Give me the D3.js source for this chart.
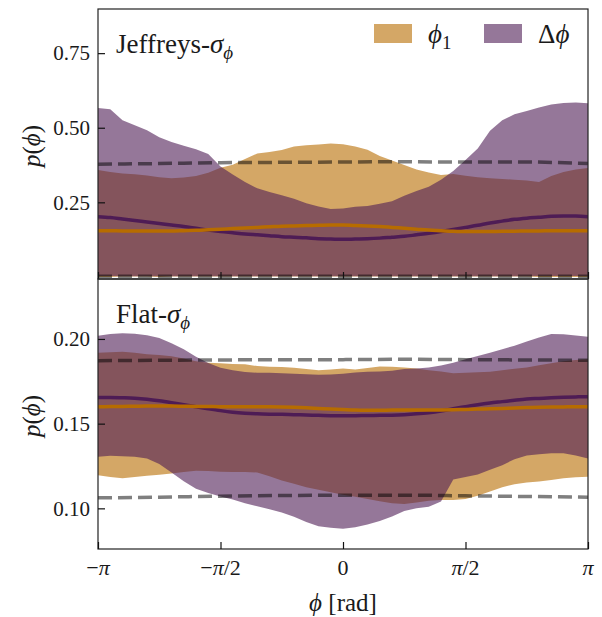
<!DOCTYPE html>
<html>
<head>
<meta charset="utf-8">
<script src="https://cdn.jsdelivr.net/npm/d3@7"></script>
<style>
body { margin: 0; background: #fff; }
text { font-family: "Liberation Serif", "DejaVu Serif", serif; fill: #1a1a1a; }
</style>
</head>
<body>
<div id="container"></div>
<script>
/* CONSTANTS AND GLOBALS */
const width = 602, height = 617,
  plotLeft = 98, plotRight = 588;

const orange = "#b76c00", purple = "#4e1c55";

/* DATA (grid of 41 points from -pi to pi) */
const phiGrid = d3.range(41).map(i => -Math.PI + i * Math.PI / 20);
const priorGrid = d3.range(9).map(i => -Math.PI + i * Math.PI / 4);

// Jeffreys panel
const jefPhi1Hi = [0.358,0.352,0.347,0.344,0.340,0.334,0.331,0.333,0.338,0.349,0.366,0.376,0.395,0.414,0.419,0.425,0.437,0.441,0.444,0.447,0.445,0.437,0.426,0.405,0.390,0.375,0.360,0.350,0.342,0.345,0.339,0.334,0.331,0.328,0.326,0.323,0.318,0.338,0.352,0.360,0.365];
const jefPhi1Lo = [0.000,0.000,0.001,0.001,0.001,0.000,0.001,0.001,0.001,0.001,0.001,0.001,0.001,0.001,0.001,0.001,0.001,0.001,0.001,0.001,0.001,0.001,0.001,0.001,0.001,0.001,0.001,0.001,0.001,0.001,0.001,0.001,0.001,0.001,0.001,0.001,0.000,0.000,0.000,0.000,0.000];
const jefDphiHi = [0.566,0.562,0.525,0.508,0.492,0.468,0.452,0.440,0.428,0.412,0.370,0.343,0.318,0.297,0.285,0.274,0.262,0.247,0.236,0.228,0.229,0.235,0.238,0.245,0.254,0.272,0.288,0.302,0.326,0.355,0.392,0.430,0.490,0.525,0.545,0.556,0.568,0.578,0.583,0.585,0.582];
const jefDphiLo = [0.003,0.003,0.002,0.002,0.002,0.002,0.002,0.002,0.002,0.002,0.002,0.002,0.002,0.002,0.002,0.002,0.002,0.002,0.002,0.002,0.002,0.002,0.002,0.002,0.002,0.002,0.002,0.002,0.002,0.002,0.002,0.002,0.002,0.002,0.002,0.002,0.003,0.003,0.003,0.003,0.003];
const jefPhi1Med = [0.155,0.155,0.154,0.154,0.154,0.154,0.154,0.155,0.156,0.158,0.160,0.162,0.164,0.166,0.168,0.170,0.171,0.172,0.173,0.174,0.174,0.172,0.171,0.169,0.166,0.163,0.160,0.157,0.155,0.153,0.152,0.152,0.152,0.153,0.153,0.154,0.154,0.155,0.155,0.155,0.155];
const jefDphiMed = [0.202,0.199,0.194,0.189,0.184,0.179,0.174,0.169,0.163,0.157,0.152,0.148,0.144,0.141,0.138,0.135,0.133,0.131,0.128,0.127,0.126,0.127,0.128,0.130,0.133,0.136,0.141,0.146,0.152,0.159,0.166,0.173,0.181,0.187,0.193,0.197,0.200,0.203,0.204,0.204,0.202];
const jefPriorHi = [0.378,0.380,0.383,0.384,0.385,0.386,0.385,0.385,0.380];
const jefPriorLo = [0.002,0.002,0.002,0.002,0.002,0.002,0.002,0.002,0.002];

// Flat panel
const flatPhi1Hi = [0.1918,0.1922,0.1924,0.1918,0.1910,0.1905,0.1898,0.1885,0.1868,0.1860,0.1856,0.1852,0.1850,0.1840,0.1836,0.1834,0.1830,0.1822,0.1816,0.1820,0.1825,0.1820,0.1828,0.1838,0.1836,0.1832,0.1825,0.1816,0.1808,0.1798,0.1800,0.1804,0.1806,0.1815,0.1824,0.1832,0.1845,0.1857,0.1868,0.1876,0.1880];
const flatPhi1Lo = [0.1195,0.1185,0.1178,0.1185,0.1192,0.1198,0.1205,0.1215,0.1222,0.1220,0.1216,0.1215,0.1214,0.1212,0.1190,0.1165,0.1145,0.1125,0.1110,0.1095,0.1080,0.1068,0.1055,0.1042,0.1030,0.1025,0.1035,0.1045,0.1050,0.1050,0.1055,0.1075,0.1100,0.1125,0.1142,0.1152,0.1158,0.1168,0.1177,0.1183,0.1187];
const flatDphiHi = [0.2019,0.2030,0.2033,0.2031,0.2022,0.2005,0.1975,0.1940,0.1895,0.1858,0.1830,0.1815,0.1805,0.1800,0.1800,0.1797,0.1795,0.1792,0.1788,0.1790,0.1795,0.1802,0.1806,0.1808,0.1812,0.1822,0.1826,0.1832,0.1843,0.1860,0.1880,0.1900,0.1918,0.1940,0.1960,0.1985,0.2008,0.2030,0.2028,0.2020,0.2013];
const flatDphiLo = [0.1305,0.1310,0.1308,0.1305,0.1295,0.1262,0.1212,0.1160,0.1115,0.1090,0.1070,0.1052,0.1030,0.1012,0.0995,0.0975,0.0950,0.0920,0.0895,0.0885,0.0880,0.0888,0.0905,0.0925,0.0952,0.0985,0.1000,0.1010,0.1040,0.1170,0.1185,0.1200,0.1228,0.1255,0.1290,0.1312,0.1320,0.1325,0.1325,0.1312,0.1295];
const flatPhi1Med = [0.1600,0.1601,0.1602,0.1603,0.1604,0.1604,0.1604,0.1603,0.1602,0.1601,0.1600,0.1600,0.1600,0.1600,0.1600,0.1599,0.1597,0.1594,0.1590,0.1586,0.1583,0.1580,0.1579,0.1579,0.1580,0.1580,0.1580,0.1580,0.1581,0.1582,0.1584,0.1586,0.1588,0.1590,0.1593,0.1595,0.1597,0.1598,0.1599,0.1600,0.1600];
const flatDphiMed = [0.1655,0.1655,0.1653,0.1650,0.1644,0.1635,0.1624,0.1612,0.1600,0.1588,0.1577,0.1568,0.1562,0.1558,0.1556,0.1555,0.1553,0.1551,0.1549,0.1547,0.1546,0.1547,0.1548,0.1549,0.1550,0.1553,0.1558,0.1565,0.1575,0.1588,0.1600,0.1612,0.1622,0.1630,0.1638,0.1645,0.1649,0.1653,0.1656,0.1658,0.1659];
const flatPriorHi = [0.1872,0.1874,0.1876,0.1878,0.1878,0.1880,0.1878,0.1876,0.1874];
const flatPriorLo = [0.1062,0.1066,0.1072,0.1076,0.1077,0.1078,0.1074,0.1070,0.1066];

const jefTicks = [0.25, 0.50, 0.75];
const flatTicks = [0.10, 0.15, 0.20];
const xTicks = [-Math.PI, -Math.PI / 2, 0, Math.PI / 2, Math.PI];
const xTickLabels = [["−", "π"], ["−", "π", "/2"], ["0"], ["π", "/2"], ["π"]];

const panels = [
  { name: "jef", title: "Jeffreys-", top: 9, bottom: 279, domain: [-0.007, 0.898], ticks: jefTicks,
    phi1: [jefPhi1Lo, jefPhi1Hi, jefPhi1Med], dphi: [jefDphiLo, jefDphiHi, jefDphiMed], prior: [jefPriorLo, jefPriorHi] },
  { name: "flat", title: "Flat-", top: 279, bottom: 549, domain: [0.0760, 0.2354], ticks: flatTicks,
    phi1: [flatPhi1Lo, flatPhi1Hi, flatPhi1Med], dphi: [flatDphiLo, flatDphiHi, flatDphiMed], prior: [flatPriorLo, flatPriorHi] }
];

/* SCALES */
const xScale = d3.scaleLinear()
  .domain([-Math.PI, Math.PI])
  .range([plotLeft, plotRight]);

const svg = d3.select("#container")
  .append("svg")
  .attr("width", width)
  .attr("height", height);

panels.forEach(p => {
  const yScale = d3.scaleLinear().domain(p.domain).range([p.bottom, p.top]);

  svg.append("clipPath").attr("id", "clip-" + p.name)
    .append("rect")
    .attr("x", plotLeft).attr("y", p.top)
    .attr("width", plotRight - plotLeft).attr("height", p.bottom - p.top);

  const g = svg.append("g").attr("clip-path", `url(#clip-${p.name})`);

  const band = (lo, hi) => d3.area()
    .x((d, i) => xScale(phiGrid[i]))
    .y0((d, i) => yScale(lo[i]))
    .y1((d, i) => yScale(hi[i]))(phiGrid);

  const line = (vals, grid) => d3.line()
    .x((d, i) => xScale(grid[i]))
    .y(d => yScale(d))
    .curve(d3.curveMonotoneX)(vals);

  // bands
  g.append("path").attr("d", band(p.phi1[0], p.phi1[1]))
    .attr("fill", orange).attr("fill-opacity", 0.6);
  g.append("path").attr("d", band(p.dphi[0], p.dphi[1]))
    .attr("fill", purple).attr("fill-opacity", 0.6);

  // prior interval (dashed)
  p.prior.forEach(vals => {
    g.append("path").attr("d", line(vals, priorGrid))
      .attr("fill", "none").attr("stroke", "#000").attr("stroke-opacity", 0.5)
      .attr("stroke-width", 3.5).attr("stroke-dasharray", "14,6");
  });

  // medians
  g.append("path").attr("d", line(p.dphi[2], phiGrid))
    .attr("fill", "none").attr("stroke", purple).attr("stroke-width", 3.5);
  g.append("path").attr("d", line(p.phi1[2], phiGrid))
    .attr("fill", "none").attr("stroke", orange).attr("stroke-width", 3.5);

  // frame
  svg.append("rect")
    .attr("x", plotLeft).attr("y", p.top)
    .attr("width", plotRight - plotLeft).attr("height", p.bottom - p.top)
    .attr("fill", "none").attr("stroke", "#222").attr("stroke-width", 1.2);

  // y axis (ticks inward)
  const yAxis = d3.axisLeft(yScale)
    .tickValues(p.ticks)
    .tickSize(-7)
    .tickPadding(8)
    .tickFormat(d3.format(".2f"));
  const ya = svg.append("g")
    .attr("transform", `translate(${plotLeft},0)`)
    .call(yAxis);
  ya.select(".domain").remove();
  ya.selectAll("line").attr("stroke", "#111").attr("stroke-width", 1.2);
  ya.selectAll("text").attr("font-family", null).style("font-size", "21px").attr("fill", "#1a1a1a");
  ya.attr("font-family", null).attr("font-size", null);

  // x ticks (inward)
  const xAxis = d3.axisBottom(xScale).tickValues(xTicks).tickSize(-7).tickFormat("");
  const xa = svg.append("g")
    .attr("transform", `translate(0,${p.bottom})`)
    .call(xAxis);
  xa.select(".domain").remove();
  xa.selectAll("line").attr("stroke", "#111").attr("stroke-width", 1.2);

  // panel title
  const t = svg.append("text")
    .attr("x", 116).attr("y", p.top + 44)
    .style("font-size", "27px");
  t.append("tspan").text(p.title);
  t.append("tspan").attr("font-style", "italic").text("σ");
  t.append("tspan").attr("font-style", "italic").attr("dy", 6).style("font-size", "19px").text("ϕ");

  // y label
  const yl = svg.append("text")
    .attr("transform", `translate(40,${(p.top + p.bottom) / 2 + 2}) rotate(-90)`)
    .attr("text-anchor", "middle")
    .style("font-size", "25px");
  yl.append("tspan").attr("font-style", "italic").text("p");
  yl.append("tspan").text("(");
  yl.append("tspan").attr("font-style", "italic").text("ϕ");
  yl.append("tspan").text(")");
});

// x tick labels
xTicks.forEach((v, i) => {
  const t = svg.append("text")
    .attr("x", xScale(v)).attr("y", 575)
    .attr("text-anchor", "middle")
    .style("font-size", "22px");
  xTickLabels[i].forEach(part => {
    t.append("tspan").attr("font-style", part === "π" ? "italic" : null).text(part);
  });
});

// x label
const xl = svg.append("text")
  .attr("x", (plotLeft + plotRight) / 2).attr("y", 611)
  .attr("text-anchor", "middle")
  .style("font-size", "25px");
xl.append("tspan").attr("font-style", "italic").text("ϕ");
xl.append("tspan").text(" [rad]");

// legend
const legend = [
  { color: orange, x: 374, label: [["ϕ", "italic", 0, 27], ["1", null, 6, 19]] },
  { color: purple, x: 484, label: [["Δ", null, 0, 27], ["ϕ", "italic", 0, 27]] }
];
legend.forEach(l => {
  svg.append("rect")
    .attr("x", l.x).attr("y", 24).attr("width", 38).attr("height", 19)
    .attr("fill", l.color).attr("fill-opacity", 0.6);
  const t = svg.append("text").attr("x", l.x + 54).attr("y", 43);
  l.label.forEach(([s, st, dy, fs]) => {
    t.append("tspan").attr("font-style", st).attr("dy", dy).style("font-size", fs + "px").text(s);
  });
});
</script>
</body>
</html>
